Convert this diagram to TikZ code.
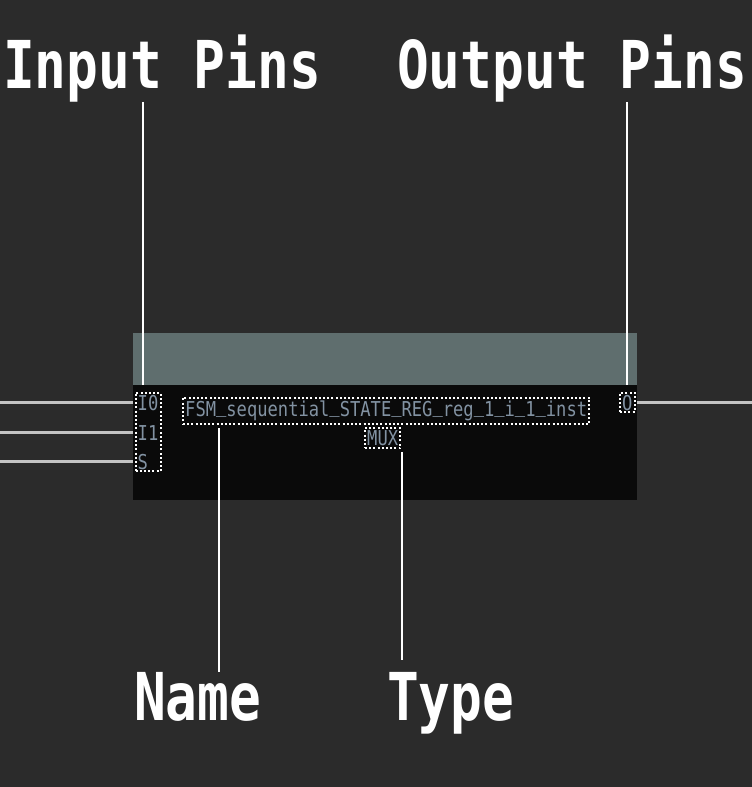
\documentclass[tikz,border=0pt]{standalone}
\usepackage{fontspec}
\newfontfamily\monofont{DejaVu Sans Mono}[FakeStretch=0.835]
\newfontfamily\labelfont{DejaVu Sans Mono}[FakeStretch=0.80]
\usetikzlibrary{fit}
\definecolor{bgcol}{HTML}{2B2B2B}
\definecolor{headcol}{HTML}{5F6E6E}
\definecolor{bodycol}{HTML}{0A0A0A}
\definecolor{wirecol}{HTML}{C4C4C4}
\definecolor{pincol}{HTML}{8292A2}
% underscore sitting on the baseline
\newcommand{\us}{\raisebox{4pt}{\_}}

\begin{document}
\begin{tikzpicture}[x=1pt,y=-1pt,
    dotbox/.style={draw=white, line width=2pt, dash pattern=on 2pt off 2.2pt, inner sep=2pt},
    pintext/.style={text=pincol, font=\monofont\fontsize{20.5}{20.5}\selectfont, inner sep=0pt, anchor=base west},
    biglabel/.style={text=white, font=\labelfont\bfseries\fontsize{66}{66}\selectfont, inner sep=0pt, anchor=base west},
    callout/.style={white, line width=2.5pt},
    wire/.style={wirecol, line width=2.5pt}]
            % draw the background
            \fill[bgcol] (0,0) rectangle (752,787);
            \useasboundingbox (0,0) rectangle (752,787);
            \coordinate (leftedge) at (0,0);
            \coordinate (rightedge) at (752,0);

            % draw the cell
            \node[fill=headcol, minimum width=504, minimum height=52, inner sep=0pt, anchor=north west] (head) at (133,333) {};
            \node[fill=bodycol, minimum width=504, minimum height=115, inner sep=0pt, anchor=north west] (body) at (133,385) {};

            % pins
            \node[pintext] (i0) at (137.5,410) {I0};
            \node[pintext] (i1) at (137.5,440) {I1};
            \node[pintext] (s) at (137.5,469) {S};
            \node[dotbox, fit=(i0)(i1)(s)] (pins) {};
            \node[pintext] (o) at (622,410) {O};
            \node[dotbox, fit=(o)] (opins) {};

            % name and type
            \node[pintext] (nametext) at (185,416.5) {FSM\us sequential\us STATE\us REG\us reg\us 1\us i\us 1\us inst};
            \node[dotbox, fit=(nametext), inner ysep=3pt] (name) {};
            \node[pintext] (muxtext) at (367,445.5) {MUX};
            \node[dotbox, fit=(muxtext)] (type) {};

            % wires
            \foreach \p in {i0,i1,s}
                \draw[wire] (\p.west -| leftedge) -- (\p.west -| body.west);
            \draw[wire] (o.east -| body.east) -- (o.east -| rightedge);

            % labels
            \node[biglabel] (inlbl) at (3,88) {Input Pins};
            \node[biglabel] (outlbl) at (397,88) {Output Pins};
            \node[biglabel] (namelbl) at (134,720) {Name};
            \node[biglabel] (typelbl) at (387,720) {Type};

            % callouts
            \coordinate (inpin) at (143,385);
            \coordinate (outpin) at (627,385);
            \coordinate (namex) at (219,0);
            \coordinate (typex) at (402,0);
            \draw[callout] (inpin |- inlbl.south) -- (inpin);
            \draw[callout] (outpin |- outlbl.south) -- (outpin);
            \draw[callout, shorten <=3pt] (namex |- name.south) -- (namex |- namelbl.north);
            \draw[callout, shorten <=3pt, shorten >=12pt] (typex |- type.south) -- (typex |- typelbl.north);
\end{tikzpicture}
\end{document}
